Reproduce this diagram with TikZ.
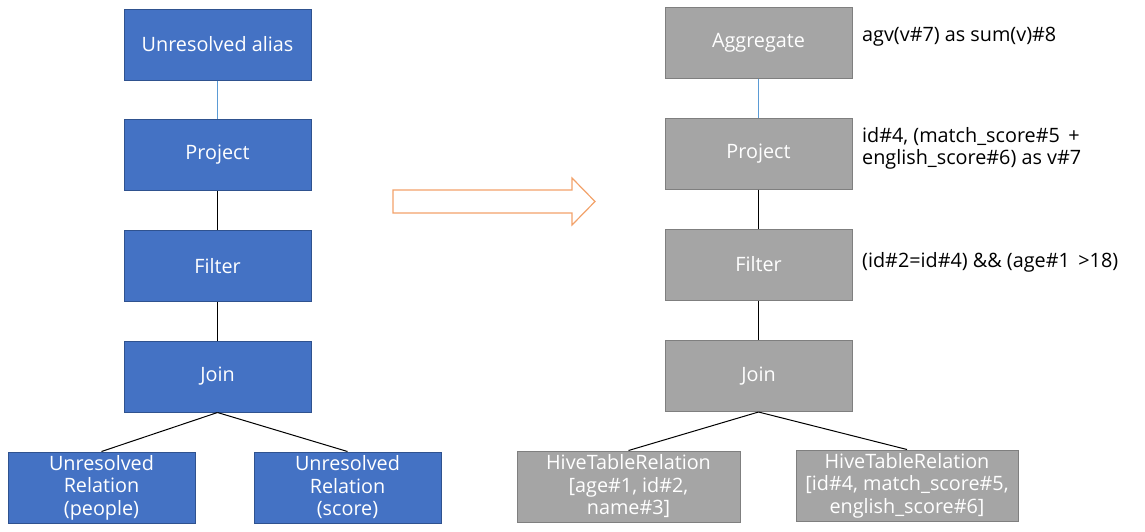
\documentclass[tikz,border=0pt]{standalone}
\usepackage{fontspec}
\setmainfont{Open Sans}
\definecolor{unresolvedfill}{HTML}{4472C4}
\definecolor{unresolvedline}{HTML}{2F528F}
\definecolor{resolvedfill}{HTML}{A5A5A5}
\definecolor{resolvedline}{HTML}{7F7F7F}
\definecolor{aliaslink}{HTML}{5B9BD5}
\definecolor{rulearrow}{HTML}{F2A26A}
\tikzset{
  plan node/.style={
    rectangle,
    line width=1pt,
    text=white,
    minimum height=71pt,
    minimum width=#1,
    anchor=center,
    align=center,
    inner sep=0pt,
    font=\fontsize{19.8}{22.5}\selectfont,
  },
  plan node/.default=187pt,
  unresolved/.style={plan node=#1, draw=unresolvedline, fill=unresolvedfill},
  unresolved/.default=187pt,
  resolved/.style={plan node=#1, draw=resolvedline, fill=resolvedfill},
  resolved/.default=187pt,
  attrs/.style={anchor=west, align=left, inner sep=0pt,
    font=\fontsize{19.8}{22.5}\selectfont},
  tree edge/.style={line width=1pt, black}
}
\begin{document}
\begin{tikzpicture}[x=1pt, y=-1pt]
\useasboundingbox (0,0) rectangle (1145,531);

% unresolved logical plan
\node[unresolved] (ualias)   at (217.5,44.5)  {Unresolved alias};
\node[unresolved] (uproject) at (217.5,155)   {Project};
\node[unresolved] (ufilter)  at (217.5,266)   {Filter};
\node[unresolved] (ujoin)    at (217.5,376.5) {Join};
\node[unresolved] (upeople)  at (101.5,487.5) {Unresolved\\Relation\\(people)};
\node[unresolved] (uscore)   at (347.5,487.5) {Unresolved\\Relation\\(score)};

\draw[line width=1pt, aliaslink] (ualias) -- (uproject);
\draw[tree edge] (uproject) -- (ufilter);
\draw[tree edge] (ufilter) -- (ujoin);
\draw[tree edge] (ujoin.south) -- (upeople.north);
\draw[tree edge] (ujoin.south) -- (uscore.north);

% analyzer
\draw[line width=1.2pt, rulearrow] (393,190) -- (572,190) -- (572,178) -- (595,201.5)
  -- (572,225) -- (572,213) -- (393,213) -- cycle;

% resolved logical plan
\node[resolved] (raggregate) at (758.5,42.5)  {Aggregate};
\node[resolved] (rproject)   at (758.5,153.5) {Project};
\node[resolved] (rfilter)    at (758.5,264.5) {Filter};
\node[resolved] (rjoin)      at (758.5,376)   {Join};
\node[resolved=223pt] (rpeople) at (628.5,486.5) {HiveTableRelation\\{}[age\#1, id\#2,\\name\#3]};
\node[resolved=222pt] (rscore)  at (907,485.5)   {HiveTableRelation\\{}[id\#4, match\_score\#5,\\english\_score\#6]};

\draw[line width=1pt, aliaslink] (raggregate) -- (rproject);
\draw[tree edge] (rproject) -- (rfilter);
\draw[tree edge] (rfilter) -- (rjoin);
\draw[tree edge] (rjoin.south) -- (rpeople.north);
\draw[tree edge] (rjoin.south) -- (rscore.north);

\node[attrs] (aggattrs)  at (862,37)    {agv(v\#7) as sum(v)\#8};
\node[attrs] (projattrs) at (862,148.5) {id\#4, (match\_score\#5 \,+\\english\_score\#6) as v\#7};
\node[attrs] (filtattrs) at (862,262)   {(id\#2=id\#4) \&\& (age\#1 \,>18)};
\end{tikzpicture}
\end{document}
